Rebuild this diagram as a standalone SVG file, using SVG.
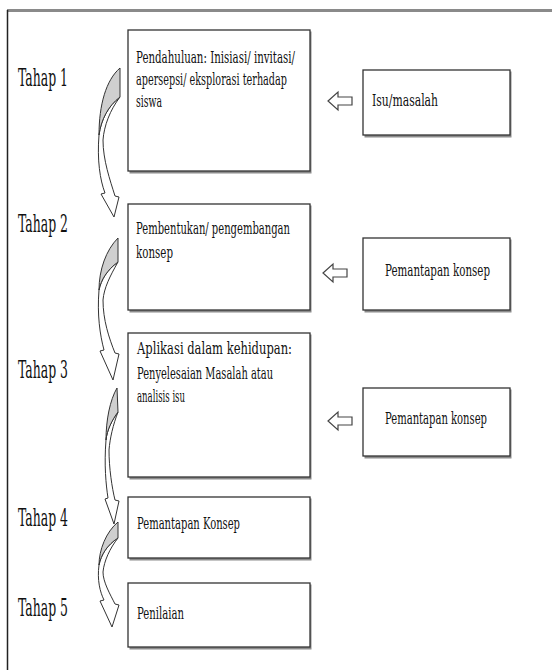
<svg xmlns="http://www.w3.org/2000/svg" width="552" height="670" viewBox="0 0 552 670">
<defs>
<style>
.frameTop{stroke:#8a8a8a;stroke-width:3;fill:none}
.frameLeft{stroke:#222;stroke-width:1.5;fill:none}
.shadow{fill:#8c8c8c}
.box{fill:#fff;stroke:#333;stroke-width:1.3}
.hollow{fill:#fff;stroke:#444;stroke-width:1.2;stroke-linejoin:miter}
.cgray{fill:#cfcfcf;stroke:#333;stroke-width:1}
.cwhite{fill:#fff;stroke:#333;stroke-width:1}
</style>
</defs>
<rect x="0" y="0" width="552" height="670" fill="#fff"/>
<g id="frame">
<line class="frameTop" x1="7" y1="10.5" x2="552" y2="10.5"/>
<line class="frameLeft" x1="7.5" y1="10" x2="7.5" y2="670"/>
</g>

<g id="labels" font-family="DejaVu Serif, Liberation Serif, serif" font-size="24" fill="#111">
<text x="18" y="86" textLength="50" lengthAdjust="spacingAndGlyphs">Tahap 1</text>
<text x="18" y="232" textLength="50" lengthAdjust="spacingAndGlyphs">Tahap 2</text>
<text x="18" y="378" textLength="50" lengthAdjust="spacingAndGlyphs">Tahap 3</text>
<text x="18" y="526" textLength="50" lengthAdjust="spacingAndGlyphs">Tahap 4</text>
<text x="18" y="616" textLength="50" lengthAdjust="spacingAndGlyphs">Tahap 5</text>
</g>

<g font-family="DejaVu Serif, Liberation Serif, serif" font-size="16" fill="#111">
<g id="node1">
<rect class="shadow" x="129.5" y="31.5" width="182" height="142"/>
<rect class="box" x="128" y="30" width="182" height="141"/>
<text x="136" y="63" textLength="159" lengthAdjust="spacingAndGlyphs">Pendahuluan: Inisiasi/ invitasi/</text>
<text x="136" y="85" textLength="151" lengthAdjust="spacingAndGlyphs">apersepsi/ eksplorasi terhadap</text>
<text x="136" y="107" textLength="26" lengthAdjust="spacingAndGlyphs">siswa</text>
</g>

<g id="node1r">
<rect class="shadow" x="364.5" y="71.5" width="147" height="66"/>
<rect class="box" x="363" y="70" width="147" height="65"/>
<text x="372" y="106" textLength="66" lengthAdjust="spacingAndGlyphs">Isu/masalah</text>
</g>

<g id="node2">
<rect class="shadow" x="129.5" y="205.5" width="182" height="107"/>
<rect class="box" x="128" y="204" width="182" height="106"/>
<text x="136" y="234" textLength="154" lengthAdjust="spacingAndGlyphs">Pembentukan/ pengembangan</text>
<text x="136" y="258" textLength="37" lengthAdjust="spacingAndGlyphs">konsep</text>
</g>

<g id="node2r">
<rect class="shadow" x="364.5" y="239.5" width="147" height="73"/>
<rect class="box" x="363" y="238" width="147" height="72"/>
<text x="385" y="276" textLength="105" lengthAdjust="spacingAndGlyphs">Pemantapan  konsep</text>
</g>

<g id="node3">
<rect class="shadow" x="129.5" y="334.5" width="182" height="145"/>
<rect class="box" x="128" y="333" width="182" height="144"/>
<text x="137" y="354" textLength="155" lengthAdjust="spacingAndGlyphs">Aplikasi dalam kehidupan:</text>
<text x="137" y="379" textLength="136" lengthAdjust="spacingAndGlyphs">Penyelesaian Masalah atau</text>
<text x="137" y="402" textLength="48" lengthAdjust="spacingAndGlyphs">analisis isu</text>
</g>

<g id="node3r">
<rect class="shadow" x="364.5" y="389.5" width="147" height="69"/>
<rect class="box" x="363" y="388" width="147" height="68"/>
<text x="385" y="424" textLength="102" lengthAdjust="spacingAndGlyphs">Pemantapan konsep</text>
</g>

<g id="node4">
<rect class="shadow" x="129.5" y="498.5" width="182" height="62"/>
<rect class="box" x="128" y="497" width="182" height="61"/>
<text x="137" y="529" textLength="103" lengthAdjust="spacingAndGlyphs">Pemantapan Konsep</text>
</g>

<g id="node5">
<rect class="shadow" x="129.5" y="584.5" width="182" height="65"/>
<rect class="box" x="128" y="583" width="182" height="64"/>
<text x="137" y="619" textLength="47" lengthAdjust="spacingAndGlyphs">Penilaian</text>
</g>
</g>

<g id="connectors">
<path class="hollow" d="M328,101 L338,92 L338,97 L352,97 L352,105 L338,105 L338,110 Z"/>
<path class="hollow" d="M323,273 L333,264 L333,269 L347,269 L347,277 L333,277 L333,282 Z"/>
<path class="hollow" d="M328,421 L338,412 L338,417 L352,417 L352,425 L338,425 L338,430 Z"/>

<path class="cwhite" d="M99,135 C97,160 100,180 105,193 L101,194 L114,217 L119,197 L115,196 C110,180 103,160 103,140 C104,126 110,110 120,97 C108,106 101,120 99,135 Z"/>
<path class="cgray" d="M120,68 C106,80 99,105 99,135 C101,120 108,106 120,97 Z"/>

<path class="cwhite" d="M99,290 C97,315 100,335 104,350 L100,351 L113,380 L119,354 L115,353 C109,338 103,320 103,300 C104,288 110,276 118,262 C107,270 101,280 99,290 Z"/>
<path class="cgray" d="M118,238 C106,250 99,270 99,290 C101,280 107,270 118,262 Z"/>

<path class="cwhite" d="M106,440 C104,465 106,485 108,498 L105,499 L114,524 L119,501 L115,500 C112,488 109,468 109,450 C110,438 113,425 118,412 C112,420 107,430 106,440 Z"/>
<path class="cgray" d="M117,388 C110,400 106,420 106,440 C107,430 112,420 118,412 Z"/>

<path class="cwhite" d="M99,565 C97,580 100,592 104,600 L100,601 L112,627 L119,605 L115,604 C110,594 103,582 103,572 C104,561 110,548 118,538 C107,545 101,555 99,565 Z"/>
<path class="cgray" d="M118,522 C106,532 99,550 99,565 C101,555 107,545 118,538 Z"/>
</g>
</svg>
